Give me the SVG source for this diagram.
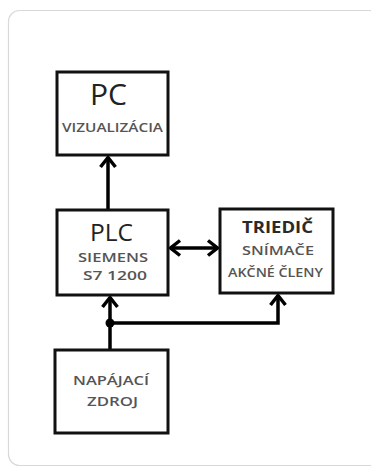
<svg xmlns="http://www.w3.org/2000/svg" width="371" height="476" viewBox="0 0 371 476">
<defs>
<style>
.box{fill:#fff;stroke:#111;stroke-width:3}
.t{font-family:"Open Sans","Noto Sans","Liberation Sans",sans-serif}
.big{fill:#222}
.sub{font-size:13px;fill:#555;font-weight:600}
.bold{font-size:16px;font-weight:bold;fill:#2a2a2a}
.ln{fill:none;stroke:#000;stroke-width:3.5}
</style>
<marker id="ah" viewBox="-14 -10 16 20" markerWidth="16" markerHeight="20" refX="-1" refY="0" orient="auto-start-reverse" markerUnits="userSpaceOnUse">
<path d="M-11,-7.5 L-1.5,0 L-11,7.5" fill="none" stroke="#000" stroke-width="3.5" stroke-linejoin="miter"/>
</marker>
</defs>
<rect x="8.5" y="10.5" width="372" height="455" rx="11" fill="#fff" stroke="#d9d9d9" stroke-width="1.2"/>
<g id="connectors">
<line class="ln" x1="108" y1="210" x2="108" y2="157" marker-end="url(#ah)"/>
<line class="ln" x1="170" y1="248" x2="218" y2="248" marker-start="url(#ah)" marker-end="url(#ah)"/>
<line class="ln" x1="110" y1="350" x2="110" y2="297" marker-end="url(#ah)"/>
<polyline class="ln" points="110,323 278,323 278,295" marker-end="url(#ah)"/>
<circle cx="110" cy="323" r="4.5" fill="#000"/>
</g>
<g id="pc">
<rect class="box" x="57" y="72" width="111" height="83"/>
<text class="t big" x="90" y="105" font-size="29" textLength="37" lengthAdjust="spacingAndGlyphs">PC</text>
<text class="t sub" x="62" y="132" textLength="101" lengthAdjust="spacingAndGlyphs">VIZUALIZÁCIA</text>
</g>
<g id="plc">
<rect class="box" x="57" y="210" width="111" height="85"/>
<text class="t big" x="90" y="241" font-size="24" textLength="43" lengthAdjust="spacingAndGlyphs">PLC</text>
<text class="t sub" x="78" y="262" textLength="70" lengthAdjust="spacingAndGlyphs">SIEMENS</text>
<text class="t sub" x="83" y="280" textLength="64" lengthAdjust="spacingAndGlyphs">S7 1200</text>
</g>
<g id="triedic">
<rect class="box" x="220" y="209" width="113" height="84"/>
<text class="t bold" x="242" y="233" textLength="71" lengthAdjust="spacingAndGlyphs">TRIEDIČ</text>
<text class="t sub" x="242" y="255" textLength="72" lengthAdjust="spacingAndGlyphs">SNÍMAČE</text>
<text class="t sub" x="228" y="277" textLength="95" lengthAdjust="spacingAndGlyphs">AKČNÉ ČLENY</text>
</g>
<g id="zdroj">
<rect class="box" x="55" y="350" width="113" height="83"/>
<text class="t sub" x="73" y="385" textLength="76" lengthAdjust="spacingAndGlyphs">NAPÁJACÍ</text>
<text class="t sub" x="87" y="406" textLength="51" lengthAdjust="spacingAndGlyphs">ZDROJ</text>
</g>
</svg>
